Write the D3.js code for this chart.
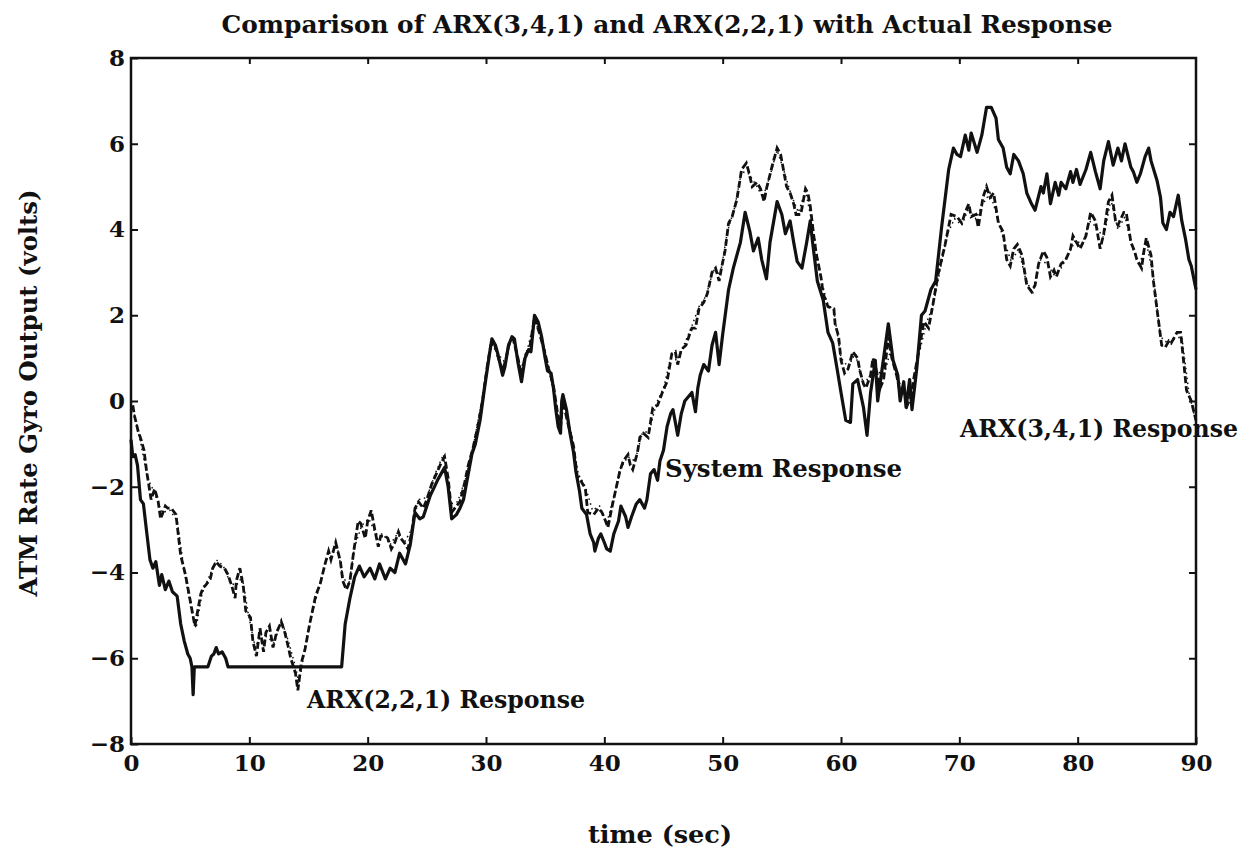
<!DOCTYPE html>
<html>
<head>
<meta charset="utf-8">
<script src="https://cdn.jsdelivr.net/npm/d3@7"></script>
<style>
  body { margin: 0; background: #fff; }
  svg { display: block; }
  text { font-family: 'DejaVu Serif', serif; font-weight: bold; fill: #111; }
</style>
</head>
<body>
<svg></svg>
<script>
// time (sec), volts
const systemResponse = [
  [0.0,-0.9],[0.15,-1.3],[0.35,-1.25],[0.55,-1.5],[0.8,-2.3],[1.05,-2.4],[1.3,-3.0],[1.6,-3.7],[1.85,-3.9],[2.1,-3.75],
  [2.4,-4.3],[2.6,-4.05],[2.9,-4.4],[3.2,-4.2],[3.5,-4.45],[3.9,-4.55],[4.2,-5.2],[4.5,-5.6],[4.8,-5.9],[5.0,-6.0],
  [5.15,-6.2],[5.25,-6.85],[5.35,-6.2],[6.5,-6.2],[6.8,-5.95],[7.0,-5.9],[7.2,-5.75],[7.4,-5.9],[7.7,-5.85],[8.0,-6.0],
  [8.2,-6.2],[17.8,-6.2],[18.1,-5.2],[18.5,-4.6],[18.9,-4.1],[19.3,-3.85],[19.7,-4.1],[20.2,-3.9],[20.6,-4.15],[21.0,-3.8],
  [21.5,-4.15],[21.9,-3.9],[22.3,-4.0],[22.7,-3.55],[23.2,-3.8],[23.6,-3.35],[24.0,-2.6],[24.4,-2.75],[24.7,-2.7],[25.3,-2.2],
  [25.9,-1.85],[26.2,-1.7],[26.5,-1.55],[26.8,-2.0],[27.1,-2.75],[27.5,-2.65],[27.8,-2.5],[28.1,-2.3],[28.5,-1.7],[28.8,-1.25],
  [29.1,-1.0],[29.5,-0.45],[29.9,0.35],[30.3,1.1],[30.5,1.45],[30.8,1.3],[31.0,1.1],[31.4,0.6],[31.6,0.8],[31.9,1.3],
  [32.2,1.5],[32.4,1.45],[32.7,0.9],[33.0,0.45],[33.3,1.0],[33.6,1.2],[33.8,1.15],[34.1,2.0],[34.4,1.85],[34.7,1.5],
  [35.0,1.0],[35.2,0.7],[35.5,0.65],[35.7,0.3],[35.9,-0.2],[36.1,-0.6],[36.3,-0.75],[36.4,0.0],[36.5,0.15],[36.8,-0.2],
  [37.1,-0.75],[37.4,-1.2],[37.6,-1.65],[37.9,-2.1],[38.1,-2.5],[38.5,-2.65],[38.8,-3.1],[39.1,-3.3],[39.2,-3.5],[39.5,-3.2],
  [39.7,-3.1],[40.0,-3.3],[40.2,-3.45],[40.5,-3.5],[40.8,-3.1],[41.2,-2.8],[41.4,-2.45],[41.8,-2.7],[42.0,-2.95],[42.3,-2.7],
  [42.7,-2.4],[43.0,-2.3],[43.4,-2.5],[43.6,-2.3],[43.9,-1.7],[44.2,-1.6],[44.5,-1.85],[44.7,-1.4],[45.0,-1.15],[45.3,-0.6],
  [45.6,-0.3],[45.8,-0.2],[46.2,-0.8],[46.5,-0.3],[46.8,0.0],[47.1,0.1],[47.4,0.2],[47.7,-0.25],[47.9,0.3],[48.1,0.6],
  [48.4,0.85],[48.8,0.7],[49.1,1.3],[49.4,1.6],[49.7,0.85],[50.0,1.55],[50.5,2.6],[50.9,3.1],[51.5,3.7],[51.9,4.4],
  [52.3,3.95],[52.6,3.5],[53.0,3.8],[53.3,3.3],[53.7,2.85],[54.0,3.7],[54.6,4.65],[55.0,4.35],[55.3,3.9],[55.7,4.2],
  [56.0,3.7],[56.3,3.25],[56.7,3.1],[57.1,3.7],[57.4,4.2],[57.6,3.7],[58.0,2.8],[58.5,2.35],[58.9,1.6],[59.3,1.35],
  [59.7,0.7],[60.0,0.2],[60.4,-0.45],[60.8,-0.5],[61.0,0.4],[61.4,0.5],[61.9,-0.15],[62.2,-0.8],[62.5,0.2],[62.9,0.95],
  [63.1,0.0],[63.5,0.8],[64.0,1.8],[64.4,0.95],[64.8,0.6],[65.0,0.0],[65.3,0.45],[65.5,-0.15],[65.8,0.5],[66.0,-0.2],
  [66.4,0.75],[66.8,2.0],[67.1,2.1],[67.6,2.6],[68.0,2.8],[68.5,4.05],[69.1,5.4],[69.5,5.9],[69.8,5.75],[70.1,5.7],
  [70.5,6.2],[70.8,5.85],[71.0,6.25],[71.5,5.8],[71.9,6.2],[72.3,6.85],[72.7,6.85],[73.1,6.6],[73.3,6.1],[73.7,5.9],
  [74.0,5.45],[74.3,5.3],[74.6,5.75],[75.0,5.6],[75.4,5.3],[75.7,4.85],[76.1,4.6],[76.4,4.45],[76.9,5.0],[77.1,4.85],
  [77.4,5.3],[77.7,4.6],[78.1,5.1],[78.4,4.8],[78.6,5.1],[79.0,4.95],[79.4,5.35],[79.6,5.1],[79.9,5.4],[80.2,5.05],
  [80.7,5.4],[81.1,5.8],[81.5,5.35],[81.9,4.95],[82.2,5.6],[82.6,6.05],[83.0,5.5],[83.4,5.9],[83.7,5.6],[84.0,6.0],
  [84.5,5.45],[84.7,5.35],[85.0,5.1],[85.3,5.3],[85.7,5.7],[86.0,5.9],[86.2,5.6],[86.7,5.15],[87.0,4.75],[87.2,4.15],
  [87.5,4.0],[87.8,4.4],[88.1,4.3],[88.5,4.8],[88.8,4.2],[89.1,3.8],[89.4,3.3],[89.6,3.15],[90.0,2.6]
];

const arx341Response = [
  [0.15,-0.1],[0.3,-0.35],[0.6,-0.7],[0.85,-0.9],[1.1,-1.15],[1.3,-1.6],[1.5,-1.95],[1.7,-2.3],[2.0,-2.05],[2.3,-2.35],
  [2.5,-2.75],[2.9,-2.45],[3.1,-2.5],[3.4,-2.5],[3.8,-2.65],[4.2,-3.6],[4.6,-4.05],[4.8,-4.35],[5.1,-4.8],[5.4,-5.25],
  [5.7,-4.8],[5.9,-4.5],[6.1,-4.35],[6.3,-4.3],[6.7,-4.15],[6.9,-3.9],[7.2,-3.75],[7.5,-3.85],[7.9,-3.9],[8.2,-4.05],
  [8.5,-4.3],[8.8,-4.6],[8.9,-4.2],[9.2,-3.9],[9.5,-4.35],[9.7,-4.9],[10.1,-5.05],[10.3,-5.6],[10.6,-5.95],[10.9,-5.3],
  [11.2,-5.85],[11.4,-5.4],[11.7,-5.25],[12.0,-5.75],[12.3,-5.4],[12.7,-5.15],[13.0,-5.4],[13.3,-5.75],[13.5,-6.0],[13.9,-6.35],
  [14.1,-6.75],[14.4,-6.1],[14.7,-5.8],[15.1,-5.2],[15.6,-4.55],[16.0,-4.25],[16.4,-3.8],[16.7,-3.5],[16.9,-3.7],[17.3,-3.3],
  [17.7,-3.75],[17.9,-4.2],[18.2,-4.4],[18.5,-4.2],[18.8,-3.55],[19.2,-2.8],[19.4,-2.85],[19.8,-3.2],[20.0,-2.8],[20.3,-2.55],
  [20.6,-3.0],[20.9,-3.4],[21.1,-3.15],[21.5,-3.15],[21.7,-3.2],[22.0,-3.45],[22.3,-3.3],[22.6,-3.05],[22.8,-3.2],[23.2,-3.35],
  [23.4,-3.45],[23.7,-3.1],[24.0,-2.5],[24.3,-2.35],[24.7,-2.5],[25.0,-2.3],[25.4,-1.95],[25.8,-1.7],[26.2,-1.45],[26.5,-1.3],
  [26.8,-1.8],[27.1,-2.6],[27.5,-2.45],[27.8,-2.35],[28.2,-1.9],[28.5,-1.5],[28.9,-1.1],[29.3,-0.6],[29.7,0.0],[30.1,0.8],
  [30.4,1.3],[30.7,1.35],[31.0,1.05],[31.4,0.7],[31.7,1.0],[32.0,1.4],[32.3,1.45],[32.7,1.0],[33.0,0.6],[33.3,1.05],
  [33.7,1.25],[34.1,1.95],[34.5,1.6],[35.0,1.1],[35.3,0.75],[35.7,0.35],[36.0,-0.2],[36.3,-0.6],[36.5,0.0],[36.9,-0.5],
  [37.4,-1.05],[37.7,-1.75],[38.1,-1.9],[38.4,-2.05],[38.6,-2.6],[39.1,-2.65],[39.5,-2.5],[39.8,-2.6],[40.1,-2.8],[40.3,-2.95],
  [40.7,-2.4],[40.9,-2.15],[41.3,-1.65],[41.6,-1.4],[42.0,-1.25],[42.2,-1.5],[42.4,-1.6],[42.8,-1.2],[43.0,-0.85],[43.3,-0.75],
  [43.7,-0.85],[44.1,-0.15],[44.5,-0.1],[44.9,0.2],[45.3,0.45],[45.7,1.1],[46.0,1.15],[46.2,0.85],[46.5,1.2],[46.9,1.3],
  [47.2,1.55],[47.4,1.7],[47.7,1.7],[48.0,2.15],[48.4,2.3],[48.7,2.5],[49.1,3.0],[49.4,3.1],[49.7,2.8],[49.9,3.1],
  [50.2,3.5],[50.5,4.15],[50.8,4.3],[51.2,4.7],[51.6,5.4],[52.0,5.55],[52.2,5.35],[52.5,5.0],[52.9,5.1],[53.2,4.95],
  [53.5,4.65],[53.7,4.95],[54.2,5.5],[54.6,5.9],[54.9,5.75],[55.2,5.3],[55.4,5.0],[55.7,4.85],[56.0,4.6],[56.2,4.35],
  [56.6,4.35],[57.0,4.95],[57.2,4.85],[57.4,4.55],[57.7,3.85],[57.9,3.45],[58.3,2.9],[58.5,2.5],[58.9,2.2],[59.4,2.15],
  [59.5,1.8],[59.8,1.5],[60.0,0.95],[60.3,0.65],[60.6,0.75],[61.0,1.15],[61.4,1.0],[61.6,0.7],[61.9,0.4],[62.1,0.3],
  [62.5,0.6],[62.7,1.0],[63.0,0.7],[63.3,0.3],[63.6,0.5],[64.0,1.5],[64.3,1.0],[64.7,0.6],[65.0,0.2],[65.3,0.3],
  [65.6,-0.1],[65.9,0.1],[66.2,0.6],[66.6,1.2],[67.0,1.85],[67.4,1.7],[67.8,2.3],[68.2,2.95],[68.8,3.65],[69.3,4.35],
  [69.8,4.3],[70.2,4.15],[70.5,4.4],[70.8,4.6],[71.0,4.3],[71.4,4.35],[71.6,4.05],[72.0,4.75],[72.3,5.0],[72.6,4.75],
  [72.9,4.85],[73.3,4.15],[73.7,3.95],[74.0,3.3],[74.3,3.15],[74.6,3.55],[74.9,3.65],[75.3,3.4],[75.7,2.7],[76.1,2.55],
  [76.4,2.7],[76.7,3.2],[77.1,3.5],[77.4,3.35],[77.7,2.9],[78.0,3.05],[78.2,2.9],[78.6,3.2],[79.0,3.3],[79.4,3.55],
  [79.6,3.85],[79.9,3.7],[80.2,3.55],[80.7,3.85],[81.1,4.4],[81.5,4.2],[81.9,3.55],[82.2,3.9],[82.6,4.65],[82.9,4.8],
  [83.2,4.2],[83.4,4.1],[83.9,4.4],[84.1,4.4],[84.5,3.7],[84.8,3.5],[85.0,3.3],[85.4,3.1],[85.6,3.5],[85.8,3.8],
  [86.2,3.4],[86.4,2.8],[86.7,2.15],[87.1,1.3],[87.4,1.25],[87.7,1.4],[87.9,1.35],[88.4,1.6],[88.7,1.6],[89.0,0.8],
  [89.2,0.25],[89.6,0.0],[90.0,-0.45]
];

const arx221Response = [
  [0.2,-0.2],[0.8,-0.95],[1.4,-1.8],[2.0,-2.15],[2.6,-2.6],[3.3,-2.55],[3.9,-2.8],[4.5,-3.95],[5.1,-4.9],[5.5,-5.3],
  [6.0,-4.5],[6.6,-4.1],[7.2,-3.7],[7.8,-3.85],[8.4,-4.25],[8.9,-4.3],[9.4,-4.1],[9.9,-4.95],[10.5,-5.75],[11.0,-5.45],
  [11.5,-5.5],[12.1,-5.65],[12.7,-5.1],[13.3,-5.6],[13.9,-6.2],[14.2,-6.6],[14.7,-5.75],[15.3,-4.95],[15.9,-4.35],[16.5,-3.7],
  [17.0,-3.6],[17.4,-3.35],[17.9,-4.1],[18.4,-4.3],[18.9,-3.4],[19.5,-2.9],[20.1,-2.75],[20.7,-3.1],[21.3,-3.1],[21.9,-3.35],
  [22.5,-3.1],[23.1,-3.3],[23.7,-3.0],[24.3,-2.3],[25.0,-2.25],[25.7,-1.7],[26.4,-1.25],[27.0,-2.4],[27.6,-2.35],[28.3,-1.8],
  [29.0,-0.95],[29.7,0.1],[30.4,1.35],[31.0,1.1],[31.6,0.9],[32.2,1.5],[32.9,0.7],[33.5,1.2],[34.1,1.9],[34.8,1.4],
  [35.5,0.5],[36.1,-0.4],[36.6,-0.05],[37.2,-0.8],[37.8,-1.7],[38.4,-2.0],[39.0,-2.55],[39.6,-2.45],[40.2,-2.85],[40.8,-2.25],
  [41.4,-1.55],[42.0,-1.3],[42.6,-1.4],[43.2,-0.75],[43.8,-0.7],[44.4,-0.05],[45.0,0.3],[45.6,1.0],[46.2,0.95],[46.8,1.35],
  [47.4,1.75],[48.0,2.2],[48.6,2.45],[49.2,3.05],[49.8,2.95],[50.4,3.95],[51.0,4.5],[51.6,5.35],[52.2,5.3],[52.8,5.05],
  [53.4,4.75],[54.0,5.25],[54.6,5.85],[55.2,5.35],[55.8,4.8],[56.4,4.4],[57.0,4.9],[57.6,4.1],[58.2,3.0],[58.8,2.3],
  [59.4,2.1],[60.0,1.0],[60.6,0.8],[61.2,1.1],[61.8,0.5],[62.4,0.5],[63.0,0.75],[63.6,0.55],[64.2,1.2],[64.8,0.5],
  [65.4,0.2],[66.0,0.15],[66.6,1.1],[67.2,1.8],[67.8,2.25],[68.4,3.1],[69.0,3.9],[69.6,4.25],[70.2,4.1],[70.8,4.5],
  [71.4,4.25],[72.0,4.6],[72.6,4.85],[73.2,4.3],[73.8,3.7],[74.4,3.25],[75.0,3.55],[75.6,2.85],[76.2,2.5],[76.8,3.3],
  [77.4,3.2],[78.0,2.95],[78.6,3.1],[79.2,3.4],[79.8,3.75],[80.4,3.65],[81.0,4.2],[81.6,4.05],[82.2,3.8],[82.8,4.7],
  [83.4,4.0],[84.0,4.3],[84.6,3.6],[85.2,3.15],[85.8,3.7],[86.4,2.9],[87.0,1.5],[87.6,1.35],[88.2,1.45],[88.8,1.5],
  [89.4,0.2],[90.0,-0.5]
];

const xTicks = [0, 10, 20, 30, 40, 50, 60, 70, 80, 90];
const yTicks = [-8, -6, -4, -2, 0, 2, 4, 6, 8];

const width = 1255;
const height = 854;
const margin = { top: 58, right: 59, bottom: 110, left: 131 };
const innerWidth = width - margin.left - margin.right;
const innerHeight = height - margin.top - margin.bottom;

const svg = d3.select('svg')
    .attr('width', width)
    .attr('height', height);

const g = svg.append('g')
    .attr('transform', `translate(${margin.left}, ${margin.top})`);

const x = d3.scaleLinear().domain([0, 90]).range([0, innerWidth]);
const y = d3.scaleLinear().domain([-8, 8]).range([innerHeight, 0]);

const minus = d => d < 0 ? '\u2212' + Math.abs(d) : String(d);

function styleAxis(sel, labels) {
    sel.attr('font-family', null).attr('font-size', null);
    sel.select('.domain').remove();
    sel.selectAll('.tick line').attr('stroke', '#111').attr('stroke-width', 2);
    if (labels) sel.selectAll('.tick text').style('font-size', '23px');
    else sel.selectAll('.tick text').remove();
}

g.append('g')
    .attr('transform', `translate(0, ${innerHeight})`)
    .call(d3.axisBottom(x).tickValues(xTicks).tickSizeInner(-7).tickSizeOuter(0).tickPadding(11).tickFormat(d3.format('d')))
    .call(s => styleAxis(s, true));

g.append('g')
    .call(d3.axisTop(x).tickValues(xTicks.slice(1, -1)).tickSizeInner(-6).tickSizeOuter(0))
    .call(s => styleAxis(s, false));

g.append('g')
    .call(d3.axisLeft(y).tickValues(yTicks).tickSizeInner(-7).tickSizeOuter(0).tickPadding(6).tickFormat(minus))
    .call(s => styleAxis(s, true));

g.append('g')
    .attr('transform', `translate(${innerWidth}, 0)`)
    .call(d3.axisRight(y).tickValues(yTicks.slice(1, -1)).tickSizeInner(-7).tickSizeOuter(0))
    .call(s => styleAxis(s, false));

const line = d3.line()
    .x(d => x(d[0]))
    .y(d => y(d[1]));

g.append('path')
    .datum(arx221Response)
    .attr('d', line)
    .attr('fill', 'none')
    .attr('stroke', '#111')
    .attr('stroke-width', 1.5)
    .attr('stroke-dasharray', '1.5,3.5');

g.append('path')
    .datum(arx341Response)
    .attr('d', line)
    .attr('fill', 'none')
    .attr('stroke', '#111')
    .attr('stroke-width', 2.8)
    .attr('stroke-dasharray', '7,3');

g.append('path')
    .datum(systemResponse)
    .attr('d', line)
    .attr('fill', 'none')
    .attr('stroke', '#111')
    .attr('stroke-width', 3.2)
    .attr('stroke-linejoin', 'round');

g.append('rect')
    .attr('width', innerWidth)
    .attr('height', innerHeight)
    .attr('fill', 'none')
    .attr('stroke', '#111')
    .attr('stroke-width', 2.5);

// titles and annotations
svg.append('text')
    .attr('x', 667).attr('y', 33)
    .attr('text-anchor', 'middle')
    .attr('textLength', 891)
    .attr('lengthAdjust', 'spacingAndGlyphs')
    .style('font-size', '24px')
    .text('Comparison of ARX(3,4,1) and ARX(2,2,1) with Actual Response');

svg.append('text')
    .attr('transform', 'translate(37, 393) rotate(-90)')
    .attr('text-anchor', 'middle')
    .attr('textLength', 407)
    .attr('lengthAdjust', 'spacingAndGlyphs')
    .style('font-size', '25px')
    .text('ATM Rate Gyro Output (volts)');

svg.append('text')
    .attr('x', 660).attr('y', 843)
    .attr('text-anchor', 'middle')
    .attr('textLength', 144)
    .attr('lengthAdjust', 'spacingAndGlyphs')
    .style('font-size', '25px')
    .text('time (sec)');

const notes = [
    { text: 'System Response', x: 665, y: 477, len: 237 },
    { text: 'ARX(3,4,1) Response', x: 960, y: 437, len: 278 },
    { text: 'ARX(2,2,1) Response', x: 307, y: 708, len: 278 }
];

svg.selectAll('.note')
    .data(notes)
    .enter()
    .append('text')
    .attr('class', 'note')
    .attr('x', d => d.x)
    .attr('y', d => d.y)
    .attr('textLength', d => d.len)
    .attr('lengthAdjust', 'spacingAndGlyphs')
    .style('font-size', '24px')
    .text(d => d.text);
</script>
</body>
</html>
